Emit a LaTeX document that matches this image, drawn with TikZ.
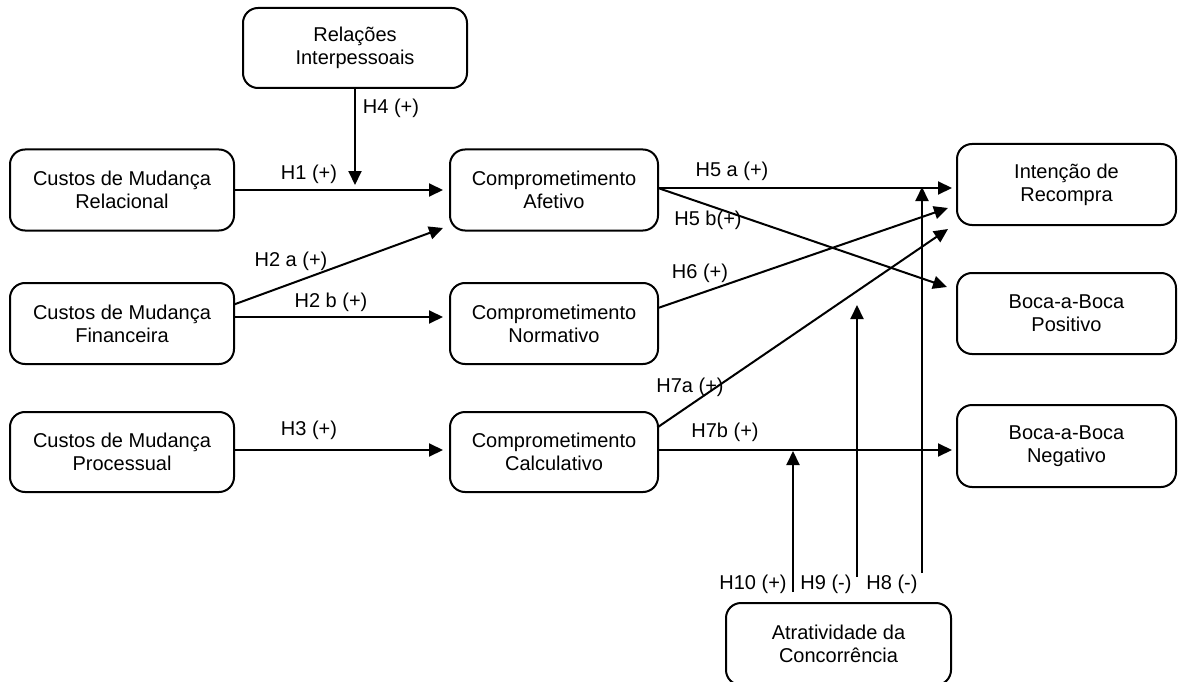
\documentclass[tikz,border=0pt]{standalone}
\usepackage{fontspec}
\setmainfont{Liberation Sans}
\usetikzlibrary{arrows.meta,calc}
\begin{document}
\begin{tikzpicture}[x=1pt,y=-1pt,
  box/.style={draw,line width=2pt,rounded corners=15pt,align=center,
    font=\fontsize{20}{23}\selectfont,inner sep=0pt,outer sep=0pt},
  lbl/.style={font=\fontsize{20}{23}\selectfont,inner sep=0pt},
  arr/.style={line width=2pt,-{Triangle[length=14pt,width=13pt]}}]
\useasboundingbox (0,0) rectangle (1178,682);
% boxes
\node[box,minimum width=224pt,minimum height=80pt] (rel) at (355,48) {Relações\\Interpessoais};
\node[box,minimum width=224pt,minimum height=81pt] (cmr) at (122,190) {Custos de Mudança\\Relacional};
\node[box,minimum width=224pt,minimum height=81pt] (cmf) at (122,323.5) {Custos de Mudança\\Financeira};
\node[box,minimum width=224pt,minimum height=80pt] (cmp) at (122,452) {Custos de Mudança\\Processual};
\node[box,minimum width=208pt,minimum height=81pt] (ca) at (554,190) {Comprometimento\\Afetivo};
\node[box,minimum width=208pt,minimum height=81pt] (cn) at (554,323.5) {Comprometimento\\Normativo};
\node[box,minimum width=208pt,minimum height=80pt] (cc) at (554,452) {Comprometimento\\Calculativo};
\node[box,minimum width=219pt,minimum height=81pt] (ir) at (1066.5,184.5) {Intenção de\\Recompra};
\node[box,minimum width=219pt,minimum height=81pt] (bbp) at (1066.5,313.5) {Boca-a-Boca\\Positivo};
\node[box,minimum width=219pt,minimum height=82pt] (bbn) at (1066.5,446) {Boca-a-Boca\\Negativo};
\node[box,minimum width=225pt,minimum height=82pt] (ac) at (838.5,644) {Atratividade da\\Concorrência};
% connectors
\draw[arr] (cmr.east) -- ($(ca.west)+(-7,0)$);
\draw[arr] (rel.south) -- ($(rel.south)+(0,97)$);
\draw[arr] ($(cmf.east)+(0,-19)$) -- ($(ca.west)+(-7,38)$);
\draw[arr] ($(cmf.east)+(0,-6.5)$) -- ($(cn.west)+(-7,-6.5)$);
\draw[arr] ($(cmp.east)+(0,-2)$) -- ($(cc.west)+(-7,-2)$);
\draw[arr] ($(ca.east)+(0,-2)$) -- ($(ir.west)+(-5,3.5)$);
\draw[arr] ($(ca.east)+(0,-2)$) -- ($(bbp.west)+(-10,-26.5)$);
\draw[arr] ($(cn.east)+(0,-15.5)$) -- ($(ir.west)+(-9,23.5)$);
\draw[arr] ($(cc.east)+(0,-25)$) -- ($(ir.west)+(-9,44.5)$);
\draw[arr] ($(cc.east)+(0,-2)$) -- ($(bbn.west)+(-5,4)$);
\draw[arr] ($(ac.north)+(-45.5,-11)$) -- ($(ac.north)+(-45.5,-152)$);
\draw[arr] ($(ac.north)+(18.5,-26)$) -- ($(ac.north)+(18.5,-298)$);
\draw[arr] ($(ac.north)+(83.5,-30)$) -- ($(ac.north)+(83.5,-416)$);
% labels
\node[lbl] (l1) at (309,174) {H1 (+)};
\node[lbl] (l4) at (391,108) {H4 (+)};
\node[lbl] (l2a) at (291,261) {H2 a (+)};
\node[lbl] (l2b) at (331,302) {H2 b (+)};
\node[lbl] (l3) at (309,430) {H3 (+)};
\node[lbl] (l5a) at (732,171) {H5 a (+)};
\node[lbl] (l5b) at (708,220) {H5 b(+)};
\node[lbl] (l6) at (700,273) {H6 (+)};
\node[lbl] (l7a) at (690,387) {H7a (+)};
\node[lbl] (l7b) at (725,432) {H7b (+)};
\node[lbl] (l10) at (753,584) {H10 (+)};
\node[lbl] (l9) at (826,584) {H9 (-)};
\node[lbl] (l8) at (892,584) {H8 (-)};
\end{tikzpicture}
\end{document}
